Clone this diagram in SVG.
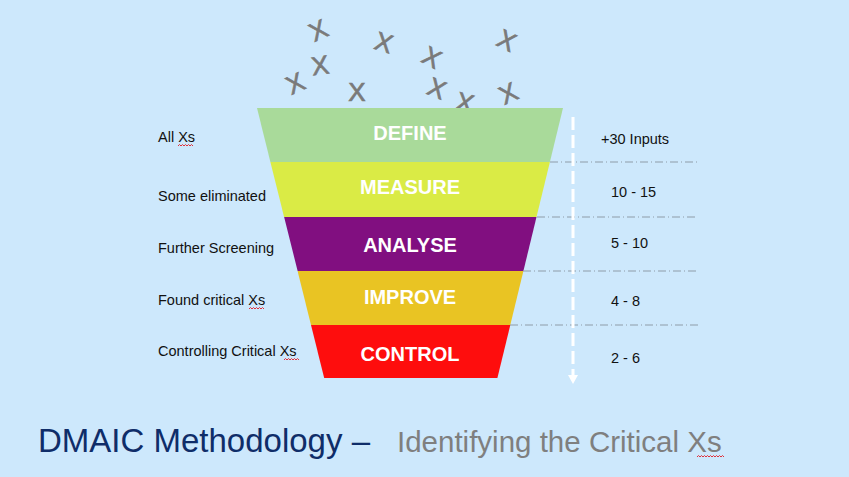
<svg xmlns="http://www.w3.org/2000/svg" width="849" height="477" viewBox="0 0 849 477">
<style>
.lbl{font-family:"Liberation Sans",Arial,sans-serif;font-size:14.5px;fill:#111}
.stage{font-family:"Liberation Sans",Arial,sans-serif;font-size:20px;font-weight:bold;fill:#fff;text-anchor:middle}
.x{font-family:"Liberation Sans",Arial,sans-serif;font-size:26px;fill:#7a7a7a;stroke:#7a7a7a;stroke-width:0.7;text-anchor:middle}
.grid{stroke:#8e9ca8;stroke-width:1;stroke-dasharray:8 3 1 3;fill:none}
.sq{stroke:#e0303a;stroke-width:1;fill:none}
</style>
<rect width="849" height="477" fill="#cde8fc"/>
<g id="xs">
<text class="x" transform="translate(318,30) rotate(-25)" y="9.5">X</text>
<text class="x" transform="translate(320,65) rotate(-8)" y="9.5">X</text>
<text class="x" transform="translate(295,83) rotate(-25)" y="9.5">X</text>
<text class="x" transform="translate(357,91)" y="9.5">X</text>
<text class="x" transform="translate(384,42) rotate(17)" y="9.5">X</text>
<text class="x" transform="translate(432,57) rotate(28)" y="9.5">X</text>
<text class="x" transform="translate(437,88) rotate(22)" y="9.5">X</text>
<text class="x" transform="translate(465,102) rotate(15)" y="9.5">X</text>
<text class="x" transform="translate(507,40) rotate(26)" y="9.5">X</text>
<text class="x" transform="translate(508,93) rotate(-25)" y="9.5">X</text>
</g>
<g id="define"><polygon points="257,108 563,108 549.9,162 270.4,162" fill="#a9da9a"/><text class="stage" x="410" y="140">DEFINE</text></g>
<g id="measure"><polygon points="270.4,162 549.9,162 536.5,217 284.1,217" fill="#daeb45"/><text class="stage" x="410" y="194">MEASURE</text></g>
<g id="analyse"><polygon points="284.1,217 536.5,217 523.4,271 297.6,271" fill="#810f80"/><text class="stage" x="410" y="252">ANALYSE</text></g>
<g id="improve"><polygon points="297.6,271 523.4,271 510.3,325 311,325" fill="#e9c423"/><text class="stage" x="410" y="304">IMPROVE</text></g>
<g id="control"><polygon points="311,325 510.3,325 497.4,378 324.2,378" fill="#fe0d0d"/><text class="stage" x="410" y="361">CONTROL</text></g>
<g id="connectors">
<line class="grid" x1="550" y1="162" x2="698" y2="162"/>
<line class="grid" x1="537" y1="217" x2="698" y2="217"/>
<line class="grid" x1="523" y1="271" x2="697" y2="271"/>
<line class="grid" x1="510" y1="325" x2="700" y2="325"/>
<line x1="573" y1="117" x2="573" y2="377" stroke="#fff" stroke-width="3" stroke-dasharray="13 5"/>
<polygon points="568,375 578,375 573,384" fill="#fff"/>
</g>
<g id="left-labels">
<text class="lbl" x="158" y="142">All Xs</text>
<text class="lbl" x="158" y="201">Some eliminated</text>
<text class="lbl" x="158" y="253">Further Screening</text>
<text class="lbl" x="158" y="305">Found critical Xs</text>
<text class="lbl" x="158" y="356">Controlling Critical Xs</text>
<path class="sq" d="M178,146 l1.5,-1.5 l1.5,1.5 l1.5,-1.5 l1.5,1.5 l1.5,-1.5 l1.5,1.5 l1.5,-1.5 l1.5,1.5 l1.5,-1.5 l1.5,1.5"/>
<path class="sq" d="M249,309 l1.5,-1.5 l1.5,1.5 l1.5,-1.5 l1.5,1.5 l1.5,-1.5 l1.5,1.5 l1.5,-1.5 l1.5,1.5 l1.5,-1.5 l1.5,1.5"/>
<path class="sq" d="M284,360 l1.5,-1.5 l1.5,1.5 l1.5,-1.5 l1.5,1.5 l1.5,-1.5 l1.5,1.5 l1.5,-1.5 l1.5,1.5 l1.5,-1.5 l1.5,1.5"/>
</g>
<g id="right-labels">
<text class="lbl" x="601" y="144">+30 Inputs</text>
<text class="lbl" x="611" y="197">10 - 15</text>
<text class="lbl" x="611" y="248">5 - 10</text>
<text class="lbl" x="611" y="306">4 - 8</text>
<text class="lbl" x="611" y="363">2 - 6</text>
</g>
<g id="title">
<text x="38" y="452" font-family="Liberation Sans,Arial,sans-serif" font-size="33" fill="#0f2d69">DMAIC Methodology –</text>
<text x="397" y="452" font-family="Liberation Sans,Arial,sans-serif" font-size="29.5" fill="#7f7f7f">Identifying the Critical Xs</text>
<path class="sq" d="M697,457 l1.5,-1.5 l1.5,1.5 l1.5,-1.5 l1.5,1.5 l1.5,-1.5 l1.5,1.5 l1.5,-1.5 l1.5,1.5 l1.5,-1.5 l1.5,1.5 l1.5,-1.5 l1.5,1.5 l1.5,-1.5 l1.5,1.5 l1.5,-1.5 l1.5,1.5 l1.5,-1.5 l1.5,1.5"/>
</g>
</svg>
